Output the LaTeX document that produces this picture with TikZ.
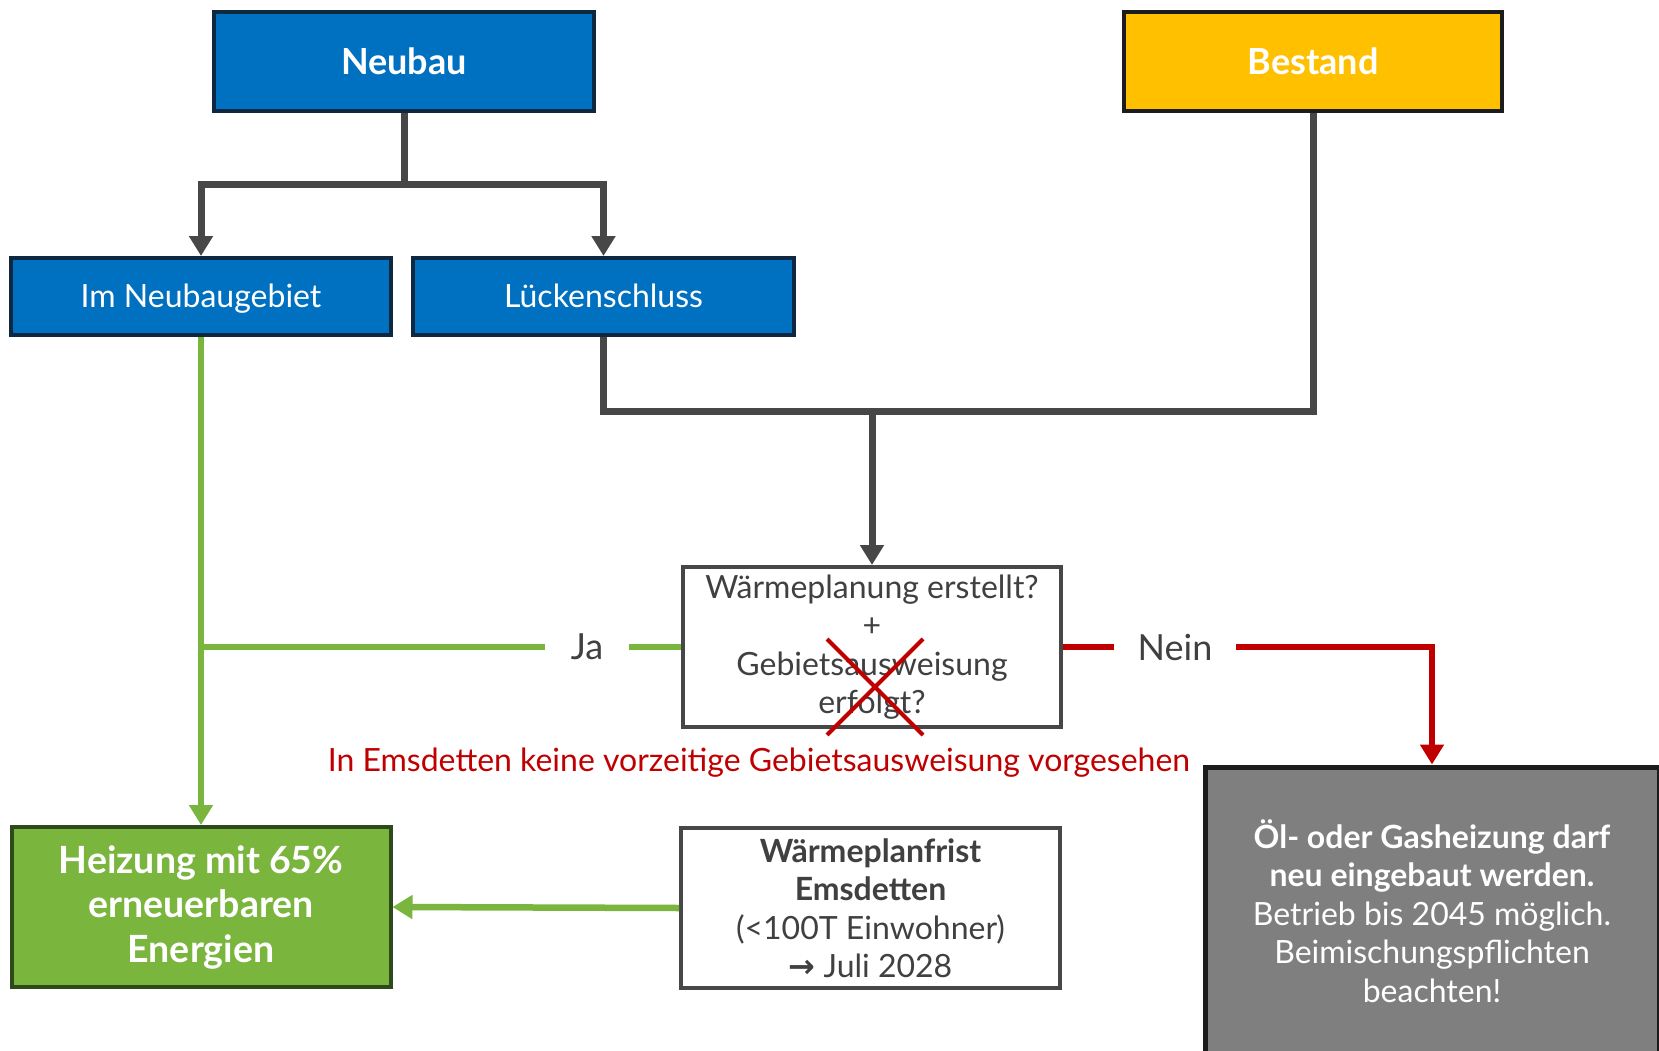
\documentclass[tikz,border=0pt]{standalone}
\usepackage{fontspec}
\setmainfont{Lato}
\newfontfamily\symf{DejaVu Sans}
\usetikzlibrary{arrows.meta}
\definecolor{blueF}{HTML}{0070C0}
\definecolor{blueD}{HTML}{0E2841}
\definecolor{yel}{HTML}{FFC000}
\definecolor{connc}{HTML}{474747}
\definecolor{grn}{HTML}{7AB53E}
\definecolor{grnD}{HTML}{2F4A1A}
\definecolor{rd}{HTML}{C00000}
\definecolor{txtg}{HTML}{404040}
\definecolor{boxg}{HTML}{7F7F7F}
\definecolor{darkb}{HTML}{1C1C1C}
\begin{document}
\begin{tikzpicture}[x=1pt,y=-1pt,
  box/.style={rectangle, inner sep=0pt, align=center, line width=4pt},
  bluebox/.style={box, fill=blueF, draw=blueD, text=white},
  big/.style={font=\fontsize{36}{43}\selectfont\bfseries},
  mid/.style={font=\fontsize{32}{38.5}\selectfont},
  tip/.style={-{Triangle[width=23pt,length=20pt]}},
  gline/.style={draw=connc, line width=7pt},
  grline/.style={draw=grn, line width=6.5pt},
  rline/.style={draw=rd, line width=6.5pt},
  lbl/.style={inner sep=0pt, text=txtg, font=\fontsize{36}{43}\selectfont, minimum height=40pt}
]
\useasboundingbox (0,0) rectangle (1659,1051);
\path[clip] (0,0) rectangle (1659,1051);
\fill[white] (0,0) rectangle (1659,1051);

% nodes
\node[bluebox, big, minimum width=380pt, minimum height=99pt] (neubau) at (404,61.5) {Neubau};
\node[box, big, fill=yel, draw=darkb, text=white, minimum width=378pt, minimum height=99pt] (bestand) at (1313,61.5) {Bestand};
\node[bluebox, mid, minimum width=380pt, minimum height=77pt, text height=22pt, text depth=0pt] (neubaugebiet) at (201,296.5) {Im Neubaugebiet};
\node[bluebox, mid, minimum width=381pt, minimum height=77pt, text height=22pt, text depth=0pt] (luecken) at (603.5,296.5) {Lückenschluss};
\node[box, mid, fill=white, draw=connc, text=txtg, minimum width=378pt, minimum height=160pt] (decision) at (872,647)
  {Wärmeplanung erstellt?\\+\\Gebietsausweisung\\erfolgt?};
\node[box, fill=grn, draw=grnD, text=white, minimum width=379pt, minimum height=160pt, font=\fontsize{37.5}{44.5}\selectfont\bfseries] (heizung) at (201,907)
  {Heizung mit 65\%\\erneuerbaren\\Energien};
\node[box, mid, fill=white, draw=connc, text=txtg, minimum width=379pt, minimum height=160pt] (frist) at (870.5,908)
  {\textbf{Wärmeplanfrist}\\\textbf{Emsdetten}\\(<100T Einwohner)\\{\symf\bfseries\fontsize{32}{30}\selectfont →} Juli 2028};
\node[box, fill=boxg, draw=darkb, line width=5pt, text=white, minimum width=454pt, minimum height=288pt, font=\fontsize{32}{38.6}\selectfont] (oel) at (1432,911)
  {\textbf{Öl- oder Gasheizung darf}\\\textbf{neu eingebaut werden.}\\Betrieb bis 2045 möglich.\\Beimischungspflichten\\beachten!};
\node[inner sep=0pt, text=rd, font=\fontsize{32}{36}\selectfont] (note) at (759,763) {In Emsdetten keine vorzeitige Gebietsausweisung vorgesehen};
\node[lbl, minimum width=84pt] (ja) at (587,647) {Ja};
\node[lbl, minimum width=122pt] (nein) at (1175,647) {Nein};

% gray connectors
\coordinate (split) at (404,185);
\coordinate (merge) at (872,411);
\draw[gline] (neubau.south) -- (split);
\draw[gline, tip] (split) -| (neubaugebiet.north);
\draw[gline, tip] (split) -| (luecken.north);
\draw[gline] (luecken.south) |- (merge);
\draw[gline] (bestand.south) |- (merge);
\draw[gline, tip] (merge) -- (decision.north);

% green connectors
\draw[grline, tip] (neubaugebiet.south) -- (heizung.north);
\draw[grline] (decision.west) -- (ja.east);
\draw[grline] (ja.west) -- (ja.west -| neubaugebiet.south);
\draw[grline, tip] (frist.west) -- (heizung.east);

% red connectors
\draw[rline] (decision.east) -- (nein.west);
\draw[rline, tip] (nein.east) -| (oel.north);

% red cross
\draw[rd, line width=4pt] (827,639) -- (923,735) (827,735) -- (923,639);
\end{tikzpicture}
\end{document}
